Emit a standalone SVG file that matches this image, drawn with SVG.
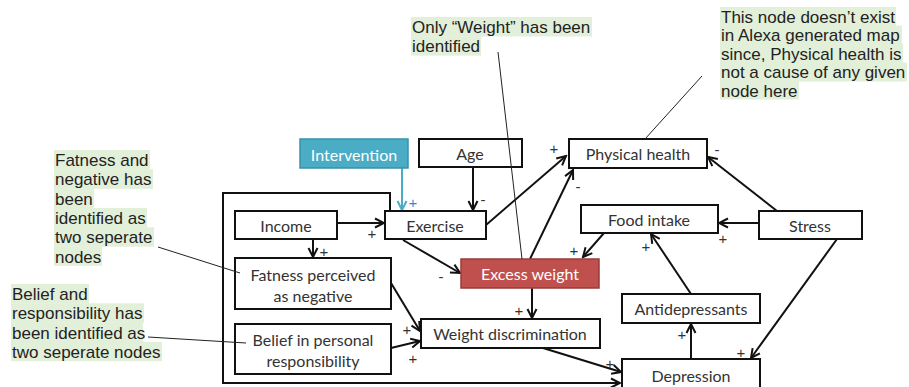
<svg xmlns="http://www.w3.org/2000/svg" width="909" height="387" viewBox="0 0 909 387">
<defs>
<style>
.node rect{fill:#fff;stroke:#111;stroke-width:2}
.node text{font-family:Lato,"Liberation Sans",sans-serif;font-size:16px;fill:#333;text-anchor:middle;dominant-baseline:central}
.conn{fill:none;stroke:#111;stroke-width:2}
.pol{font-family:"Liberation Sans",Arial,sans-serif;font-size:15px;fill:#333;text-anchor:middle;dominant-baseline:central}
.note text{font-family:"Liberation Sans",Arial,sans-serif;font-size:17px;fill:#222}
.note rect{fill:#e2efd9}
.ptr{stroke:#222;stroke-width:1;fill:none}
</style>
<marker id="ah" viewBox="0 0 12 12" refX="10" refY="6" markerWidth="12" markerHeight="12" markerUnits="userSpaceOnUse" orient="auto">
<path d="M1,1.5 L10,6 L1,10.5" fill="none" stroke="#111" stroke-width="2"/>
</marker>
<marker id="ahb" viewBox="0 0 12 12" refX="10" refY="6" markerWidth="12" markerHeight="12" markerUnits="userSpaceOnUse" orient="auto">
<path d="M1,1.5 L10,6 L1,10.5" fill="none" stroke="#4BACC6" stroke-width="2"/>
</marker>
</defs>

<g id="connectors">
<path class="conn" d="M390,211 V193 H223 V383 H620" marker-end="url(#ah)"/>
<line x1="402" y1="168" x2="402" y2="210" stroke="#4BACC6" stroke-width="2" marker-end="url(#ahb)"/>
<line class="conn" x1="473" y1="167" x2="473" y2="210" marker-end="url(#ah)"/>
<line class="conn" x1="337" y1="223" x2="384" y2="223" marker-end="url(#ah)"/>
<line class="conn" x1="313" y1="239" x2="313" y2="257" marker-end="url(#ah)"/>
<line class="conn" x1="486" y1="225" x2="566" y2="156" marker-end="url(#ah)"/>
<line class="conn" x1="403" y1="240" x2="460" y2="273" marker-end="url(#ah)"/>
<line class="conn" x1="530" y1="259" x2="573" y2="170" marker-end="url(#ah)"/>
<line class="conn" x1="532" y1="288" x2="532" y2="318" marker-end="url(#ah)"/>
<line class="conn" x1="391" y1="283" x2="420" y2="331" marker-end="url(#ah)"/>
<line class="conn" x1="391" y1="348" x2="420" y2="341" marker-end="url(#ah)"/>
<line class="conn" x1="543" y1="348" x2="621" y2="372" marker-end="url(#ah)"/>
<line class="conn" x1="777" y1="211" x2="708" y2="157" marker-end="url(#ah)"/>
<line class="conn" x1="759" y1="223" x2="719" y2="223" marker-end="url(#ah)"/>
<line class="conn" x1="837" y1="239" x2="751" y2="358" marker-end="url(#ah)"/>
<line class="conn" x1="604" y1="233" x2="583" y2="257" marker-end="url(#ah)"/>
<line class="conn" x1="691" y1="294" x2="651" y2="234" marker-end="url(#ah)"/>
<line class="conn" x1="691" y1="359" x2="691" y2="324" marker-end="url(#ah)"/>
<text class="pol" x="413" y="202" style="fill:#1F8FD8">+</text>
<text class="pol" x="483" y="199">-</text>
<text class="pol" x="372" y="233">+</text>
<text class="pol" x="324" y="251">+</text>
<text class="pol" x="554" y="148">+</text>
<text class="pol" x="441" y="276">-</text>
<text class="pol" x="578" y="186">-</text>
<text class="pol" x="519" y="310">+</text>
<text class="pol" x="407" y="329">+</text>
<text class="pol" x="413" y="358">+</text>
<text class="pol" x="610" y="363">+</text>
<text class="pol" x="717" y="149">-</text>
<text class="pol" x="723" y="238">+</text>
<text class="pol" x="741" y="352">+</text>
<text class="pol" x="574" y="250">+</text>
<text class="pol" x="646" y="246">+</text>
<text class="pol" x="682" y="334">+</text>
</g>

<g id="intervention" class="node"><rect x="300" y="139" width="108" height="29" style="fill:#4BACC6;stroke:#3A91AA;stroke-width:1.5"/><text x="354" y="154" style="fill:#fff">Intervention</text></g>
<g id="age" class="node"><rect x="419" y="139" width="103" height="28"/><text x="470" y="153">Age</text></g>
<g id="exercise" class="node"><rect x="385" y="211" width="101" height="28"/><text x="435" y="225">Exercise</text></g>
<g id="income" class="node"><rect x="235" y="211" width="102" height="28"/><text x="286" y="225">Income</text></g>
<g id="fatness" class="node"><rect x="235" y="258" width="156" height="51"/><text x="313" y="274">Fatness perceived</text><text x="313" y="295">as negative</text></g>
<g id="belief" class="node"><rect x="235" y="324" width="156" height="50"/><text x="313" y="339">Belief in personal</text><text x="313" y="360">responsibility</text></g>
<g id="weight-discrimination" class="node"><rect x="421" y="319" width="179" height="29"/><text x="510" y="333">Weight discrimination</text></g>
<g id="excess-weight" class="node"><rect x="461" y="259" width="138" height="29" style="fill:#C0504D;stroke:#9A3B39;stroke-width:1.5"/><text x="530" y="273" style="fill:#fff">Excess weight</text></g>
<g id="physical-health" class="node"><rect x="569" y="139" width="138" height="29"/><text x="638" y="153">Physical health</text></g>
<g id="food-intake" class="node"><rect x="581" y="205" width="137" height="28"/><text x="649" y="219">Food intake</text></g>
<g id="stress" class="node"><rect x="759" y="211" width="103" height="28"/><text x="810" y="225">Stress</text></g>
<g id="antidepressants" class="node"><rect x="622" y="294" width="138" height="29"/><text x="691" y="308">Antidepressants</text></g>
<g id="depression" class="node"><rect x="622" y="359" width="138" height="34"/><text x="691" y="375">Depression</text></g>

<g id="note-fatness" class="note">
<rect x="54" y="150" width="96" height="19.5"/>
<rect x="54" y="169.3" width="99" height="19.5"/>
<rect x="54" y="188.6" width="40" height="19.5"/>
<rect x="54" y="207.9" width="93" height="19.5"/>
<rect x="54" y="227.2" width="100" height="19.5"/>
<rect x="54" y="246.5" width="48" height="19.3"/>
<text x="55" y="166">Fatness and</text>
<text x="55" y="185.3">negative has</text>
<text x="55" y="204.6">been</text>
<text x="55" y="223.9">identified as</text>
<text x="55" y="243.2">two seperate</text>
<text x="55" y="262.5">nodes</text>
<line class="ptr" x1="158" y1="247" x2="240" y2="273"/>
</g>
<g id="note-belief" class="note">
<rect x="11" y="284" width="78" height="19.5"/>
<rect x="11" y="303.3" width="133" height="19.5"/>
<rect x="11" y="322.6" width="132" height="19.5"/>
<rect x="11" y="341.9" width="151" height="19.3"/>
<text x="12" y="300">Belief and</text>
<text x="12" y="319.3">responsibility has</text>
<text x="12" y="338.6">been identified as</text>
<text x="12" y="357.9">two seperate nodes</text>
<line class="ptr" x1="148" y1="337" x2="246" y2="343"/>
</g>
<g id="note-weight" class="note">
<rect x="411" y="17" width="181" height="19.5"/>
<rect x="411" y="36.3" width="70" height="19.3"/>
<text x="412" y="33">Only “Weight” has been</text>
<text x="412" y="52">identified</text>
<line class="ptr" x1="498" y1="52" x2="522" y2="259"/>
</g>
<g id="note-health" class="note">
<rect x="720" y="7" width="176" height="19"/>
<rect x="720" y="25.5" width="182" height="19"/>
<rect x="720" y="44" width="183" height="19"/>
<rect x="720" y="62.5" width="187" height="19"/>
<rect x="720" y="81" width="79" height="18.5"/>
<text x="721" y="22.7">This node doesn’t exist</text>
<text x="721" y="41.2">in Alexa generated map</text>
<text x="721" y="59.7">since, Physical health is</text>
<text x="721" y="78.2">not a cause of any given</text>
<text x="721" y="96.7">node here</text>
<line class="ptr" x1="702" y1="76" x2="645" y2="139"/>
</g>
</svg>
